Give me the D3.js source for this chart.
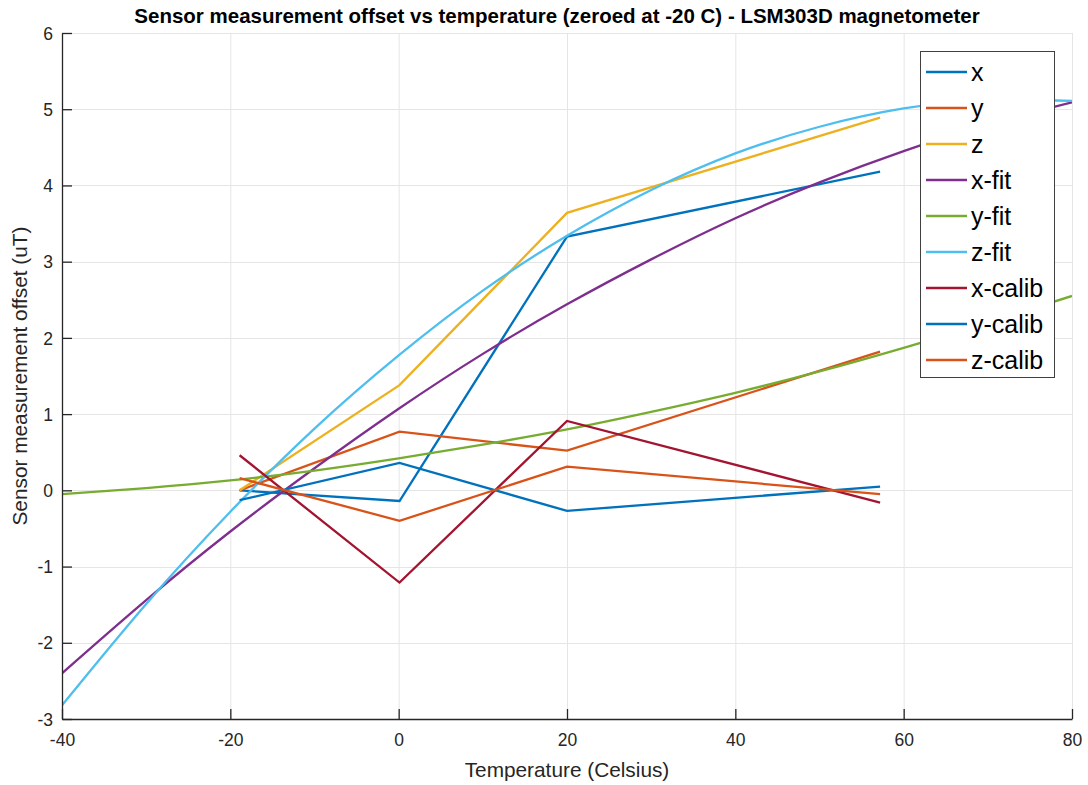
<!DOCTYPE html>
<html>
<head>
<meta charset="utf-8">
<script src="https://cdn.jsdelivr.net/npm/d3@7"></script>
<style>
  html, body { margin: 0; padding: 0; background: #fff; }
  svg { display: block; font-family: "Liberation Sans", Arial, Helvetica, sans-serif; }
</style>
</head>
<body>
<svg id="chart" width="1088" height="785"></svg>
<script>
// Measurement temperatures (Celsius)
const tempsMeasured = [-18.9, 0.1, 20.0, 57.2];
// Raw offsets, zeroed at the coldest point (uT)
const xRaw = [0.00, -0.14, 3.33, 4.18];
const yRaw = [0.00, 0.77, 0.52, 1.82];
const zRaw = [0.00, 1.38, 3.64, 4.89];
// Residual offsets after applying the fitted correction (uT)
const xCalib = [0.46, -1.21, 0.91, -0.16];
const yCalib = [-0.13, 0.36, -0.27, 0.05];
const zCalib = [0.16, -0.40, 0.31, -0.05];

// Fitted curves, sampled every 10 C
const tempsFit = [-40, -30, -20, -10, 0, 10, 20, 30, 40, 50, 60, 70, 80];
const xFit = [-2.40, -1.44, -0.54, 0.29, 1.07, 1.79, 2.44, 3.03, 3.57, 4.04, 4.45, 4.80, 5.09];
const yFit = [-0.05, 0.03, 0.13, 0.26, 0.42, 0.60, 0.80, 1.03, 1.28, 1.56, 1.87, 2.20, 2.55];
const zFit = [-2.82, -1.49, -0.28, 0.81, 1.77, 2.62, 3.34, 3.94, 4.42, 4.77, 5.01, 5.12, 5.11];

const xTicks = [-40, -20, 0, 20, 40, 60, 80];
const yTicks = [-3, -2, -1, 0, 1, 2, 3, 4, 5, 6];

const seriesNames = ["x", "y", "z", "x-fit", "y-fit", "z-fit", "x-calib", "y-calib", "z-calib"];
const seriesColors = ["#0072BD", "#D95319", "#EDB120", "#7E2F8E", "#77AC30", "#4DBEEE", "#A2142F", "#0072BD", "#D95319"];

const series = [
  { t: tempsMeasured, v: xRaw, smooth: false },
  { t: tempsMeasured, v: yRaw, smooth: false },
  { t: tempsMeasured, v: zRaw, smooth: false },
  { t: tempsFit, v: xFit, smooth: true },
  { t: tempsFit, v: yFit, smooth: true },
  { t: tempsFit, v: zFit, smooth: true },
  { t: tempsMeasured, v: xCalib, smooth: false },
  { t: tempsMeasured, v: yCalib, smooth: false },
  { t: tempsMeasured, v: zCalib, smooth: false }
].map((s, i) => ({ ...s, name: seriesNames[i], color: seriesColors[i] }));

const svg = d3.select("#chart");
const plot = { left: 62, right: 1072, top: 33, bottom: 719 };

const x = d3.scaleLinear().domain([-40, 80]).range([plot.left, plot.right]);
const y = d3.scaleLinear().domain([-3, 6]).range([plot.bottom, plot.top]);

const axisColor = "#262626";
const gridColor = "#e5e5e5";

// Grid
const grid = svg.append("g");
grid.selectAll("line.vx").data(xTicks).join("line")
  .attr("x1", d => x(d) + 0.5).attr("x2", d => x(d) + 0.5)
  .attr("y1", plot.top).attr("y2", plot.bottom)
  .attr("stroke", gridColor).attr("stroke-width", 1);
grid.selectAll("line.hy").data(yTicks).join("line")
  .attr("y1", d => Math.round(y(d)) + 0.5).attr("y2", d => Math.round(y(d)) + 0.5)
  .attr("x1", plot.left).attr("x2", plot.right)
  .attr("stroke", gridColor).attr("stroke-width", 1);

// Data lines, clipped to the axes box
svg.append("clipPath").attr("id", "plotClip")
  .append("rect")
  .attr("x", plot.left).attr("y", plot.top)
  .attr("width", plot.right - plot.left).attr("height", plot.bottom - plot.top);

const lineStraight = d3.line().x(d => x(d[0])).y(d => y(d[1]));
const lineSmooth = d3.line().x(d => x(d[0])).y(d => y(d[1])).curve(d3.curveNatural);

const lines = svg.append("g").attr("clip-path", "url(#plotClip)");
series.forEach(s => {
  const pts = s.t.map((t, i) => [t, s.v[i]]);
  lines.append("path")
    .attr("d", (s.smooth ? lineSmooth : lineStraight)(pts))
    .attr("fill", "none")
    .attr("stroke", s.color)
    .attr("stroke-width", 2.3)
    .attr("stroke-linejoin", "miter");
});

// Axes (left and bottom), ticks pointing inward; plain hyphen for negatives
const plainNum = d => String(d);
const xAxis = d3.axisBottom(x).tickValues(xTicks).tickSizeInner(-10).tickSizeOuter(0).tickPadding(15)
  .tickFormat(plainNum);
const yAxis = d3.axisLeft(y).tickValues(yTicks).tickSizeInner(-10).tickSizeOuter(0).tickPadding(9)
  .tickFormat(plainNum);

const gx = svg.append("g").attr("transform", `translate(0,${plot.bottom})`).call(xAxis);
const gy = svg.append("g").attr("transform", `translate(${plot.left},0)`).call(yAxis);
[gx, gy].forEach(g => {
  g.select(".domain").attr("stroke", axisColor).attr("stroke-width", 1.3);
  g.selectAll(".tick line").attr("stroke", axisColor).attr("stroke-width", 1.3);
  g.selectAll(".tick text").attr("fill", axisColor)
    .style("font-size", "17.5px").style("font-family", "'Liberation Sans', Arial, sans-serif");
});
gx.selectAll(".tick text").attr("dy", "0.71em");
gy.selectAll(".tick text").attr("dy", "0.35em");

// Titles
svg.append("text")
  .attr("x", 557).attr("y", 23)
  .attr("text-anchor", "middle")
  .attr("fill", "#000")
  .style("font-size", "20.5px").style("font-weight", "bold")
  .text("Sensor measurement offset vs temperature (zeroed at -20 C) - LSM303D magnetometer");

svg.append("text")
  .attr("x", (plot.left + plot.right) / 2).attr("y", 777)
  .attr("text-anchor", "middle")
  .attr("fill", axisColor)
  .style("font-size", "20.8px")
  .text("Temperature (Celsius)");

svg.append("text")
  .attr("transform", `translate(27,${(plot.top + plot.bottom) / 2}) rotate(-90)`)
  .attr("text-anchor", "middle")
  .attr("fill", axisColor)
  .style("font-size", "20.8px")
  .text("Sensor measurement offset (uT)");

// Legend
const legend = svg.append("g");
const lg = { x: 920, y: 51, w: 134, h: 326, row: 36, first: 72 };
legend.append("rect")
  .attr("x", lg.x + 0.5).attr("y", lg.y + 0.5)
  .attr("width", lg.w).attr("height", lg.h)
  .attr("fill", "#fff").attr("stroke", "#404040").attr("stroke-width", 1);
const items = legend.selectAll("g.item").data(series).join("g")
  .attr("transform", (d, i) => `translate(0,${lg.first + i * lg.row})`);
items.append("line")
  .attr("x1", 926).attr("x2", 967).attr("y1", 0).attr("y2", 0)
  .attr("stroke", d => d.color).attr("stroke-width", 2.3);
items.append("text")
  .attr("x", 971).attr("y", 0).attr("dy", "0.35em")
  .attr("fill", "#000")
  .style("font-size", "25px")
  .text(d => d.name);
</script>
</body>
</html>
